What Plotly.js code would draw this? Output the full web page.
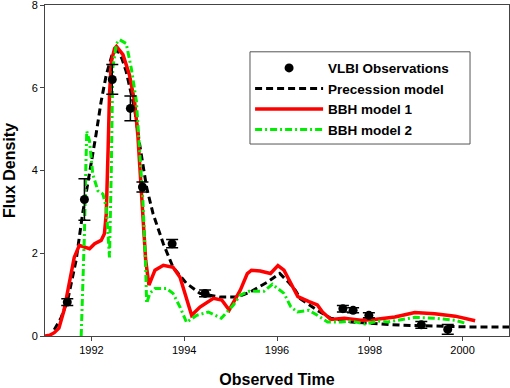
<!DOCTYPE html>
<html>
<head>
<meta charset="utf-8">
<script src="https://cdn.plot.ly/plotly-3.0.1.min.js"></script>
<style>
  html, body { margin: 0; padding: 0; background: #fff; }
  #chart { width: 510px; height: 388px; }
</style>
</head>
<body>
<div id="chart"></div>
<script>
// VLBI observations (year, flux, error)
const obsYear = [1991.48, 1991.85, 1992.45, 1992.84, 1993.10, 1993.74, 1994.45, 1997.42, 1997.64, 1997.98, 1999.11, 1999.68];
const obsFlux = [0.82, 3.3, 6.2, 5.5, 3.6, 2.23, 1.03, 0.66, 0.62, 0.5, 0.27, 0.16];
const obsErr  = [0.08, 0.5, 0.36, 0.3, 0.12, 0.1, 0.08, 0.08, 0.06, 0.06, 0.08, 0.12];

// Precession model
const precYear = [1991.2, 1991.35, 1991.49, 1991.67, 1991.81, 1991.96, 1992.1, 1992.21, 1992.32, 1992.46, 1992.57, 1992.66,
  1992.75, 1992.93, 1993.04, 1993.19, 1993.33, 1993.55, 1993.76, 1994.05, 1994.34, 1994.78, 1995.14, 1995.4, 1995.61,
  1995.79, 1996.06, 1996.25, 1996.4, 1996.5, 1996.7, 1996.9, 1997.16, 1997.6, 1998.68, 2000.13, 2001.0];
const precFlux = [0.15, 0.45, 0.87, 1.83, 2.95, 3.91, 4.87, 5.67, 6.31, 6.85, 6.9, 6.7,
  6.39, 5.5, 4.63, 3.59, 2.95, 2.23, 1.66, 1.27, 1.03, 0.94, 0.94, 1.05, 1.19,
  1.3, 1.51, 1.3, 1.1, 0.9, 0.75, 0.6, 0.43, 0.34, 0.26, 0.22, 0.22];

// BBH model 1
const bbh1Year = [1991.0, 1991.1, 1991.2, 1991.3, 1991.41, 1991.52, 1991.63, 1991.74, 1991.85, 1991.96, 1992.07, 1992.21,
  1992.28, 1992.32, 1992.36, 1992.39, 1992.43, 1992.5, 1992.54, 1992.68, 1992.82, 1992.93, 1993.0, 1993.04, 1993.11,
  1993.17, 1993.24, 1993.37, 1993.55, 1993.76, 1993.91, 1994.05, 1994.16, 1994.34, 1994.63, 1994.81, 1994.97, 1995.21,
  1995.36, 1995.45, 1995.64, 1995.86, 1996.02, 1996.15, 1996.3, 1996.45, 1996.69, 1996.87, 1996.98, 1997.16, 1997.45,
  1997.81, 1998.1, 1998.54, 1998.97, 1999.4, 1999.84, 2000.27];
const bbh1Flux = [0.0, 0.02, 0.08, 0.19, 0.62, 1.27, 1.9, 2.19, 2.14, 2.11, 2.23, 2.31,
  2.47, 2.95, 4.5, 5.84, 6.63, 6.95, 7.0, 6.8, 6.31, 5.67, 4.87, 4.07, 2.87,
  1.83, 1.23, 1.59, 1.71, 1.66, 1.42, 0.94, 0.5, 0.7, 0.91, 0.87, 0.63, 1.11,
  1.51, 1.59, 1.57, 1.51, 1.7, 1.59, 1.27, 0.95, 0.83, 0.75, 0.58, 0.4, 0.43,
  0.38, 0.4, 0.46, 0.57, 0.54, 0.48, 0.37];

// BBH model 2
const bbh2Year = [1991.78, 1991.81, 1991.85, 1991.88, 1991.9, 1991.96, 1991.99, 1992.03, 1992.14, 1992.25, 1992.32, 1992.37,
  1992.39, 1992.43, 1992.46, 1992.54, 1992.61, 1992.75, 1992.86, 1992.97, 1993.04, 1993.11, 1993.17, 1993.19, 1993.26,
  1993.37, 1993.62, 1993.76, 1993.91, 1994.05, 1994.27, 1994.52, 1994.8, 1995.06, 1995.21, 1995.4, 1995.72, 1995.9,
  1996.15, 1996.3, 1996.44, 1996.69, 1996.87, 1997.09, 1997.38, 1997.6, 1997.9, 1998.18, 1998.39, 1998.97, 1999.4,
  1999.84, 2000.09];
const bbh2Flux = [0.0, 0.87, 2.47, 4.07, 4.95, 4.71, 4.3, 3.91, 3.51, 3.43, 3.1, 2.2,
  1.9, 4.07, 6.47, 7.07, 7.16, 7.07, 6.47, 5.67, 4.47, 3.27, 1.66, 0.79, 1.03,
  1.15, 1.15, 1.03, 0.7, 0.33, 0.5, 0.58, 0.43, 0.75, 0.99, 1.08, 1.08, 1.25,
  1.03, 0.7, 0.58, 0.62, 0.5, 0.34, 0.34, 0.36, 0.29, 0.36, 0.34, 0.45, 0.43,
  0.38, 0.3];

const xTicks = [1992, 1994, 1996, 1998, 2000];
const yTicks = [0, 2, 4, 6, 8];

const fontFam = 'Liberation Sans, Arial, sans-serif';

const tracePrec = {
    x: precYear, y: precFlux, mode: 'lines', name: 'Precession model',
    line: { color: 'black', width: 3, dash: '7px,4px' }, legendrank: 2
};
const traceBbh1 = {
    x: bbh1Year, y: bbh1Flux, mode: 'lines', name: 'BBH model 1',
    line: { color: '#ff0000', width: 3.5 }, legendrank: 3
};
const traceBbh2 = {
    x: bbh2Year, y: bbh2Flux, mode: 'lines', name: 'BBH model 2',
    line: { color: '#00ee00', width: 3, dash: '7px,3px,2px,3px' }, legendrank: 4
};
const traceObs = {
    x: obsYear, y: obsFlux, mode: 'markers', name: 'VLBI Observations',
    marker: { color: 'black', size: 9, symbol: 'circle' },
    error_y: { type: 'data', array: obsErr, visible: true, color: 'black', thickness: 1.5, width: 6 },
    legendrank: 1
};

const layout = {
    width: 510,
    height: 388,
    margin: { l: 45, r: 1, t: 5, b: 52 },
    paper_bgcolor: 'white',
    plot_bgcolor: 'white',
    font: { family: fontFam, color: 'black', size: 11 },
    showlegend: true,
    // legend frame drawn as a shape so it can be wider than the text
    shapes: [{
        type: 'rect', xref: 'paper', yref: 'paper', layer: 'above',
        x0: 0.4418, x1: 0.916, y0: 0.58, y1: 0.8586,
        line: { color: '#555', width: 1 }, fillcolor: 'white'
    }],
    legend: {
        x: 0.442, y: 0.856, xanchor: 'left', yanchor: 'top',
        bgcolor: 'rgba(0,0,0,0)', borderwidth: 0,
        font: { family: fontFam, size: 13.5, weight: 'bold', color: 'black' },
        itemwidth: 68, tracegroupgap: 0
    },
    xaxis: {
        range: [1991, 2001], tickvals: xTicks, ticks: 'outside', ticklen: 4,
        showline: true, mirror: true, linecolor: '#444', linewidth: 1,
        showgrid: false, zeroline: false,
        title: { text: 'Observed Time', font: { family: fontFam, size: 16, weight: 'bold' }, standoff: 22 }
    },
    yaxis: {
        range: [0, 8], tickvals: yTicks, ticks: 'outside', ticklen: 4,
        ticklabeloverflow: 'allow',
        showline: true, mirror: true, linecolor: '#444', linewidth: 1,
        showgrid: false, zeroline: false,
        title: { text: 'Flux Density', font: { family: fontFam, size: 16, weight: 'bold' }, standoff: 12 }
    }
};

Plotly.newPlot('chart', [tracePrec, traceBbh1, traceBbh2, traceObs], layout, { staticPlot: true });
</script>
</body>
</html>
